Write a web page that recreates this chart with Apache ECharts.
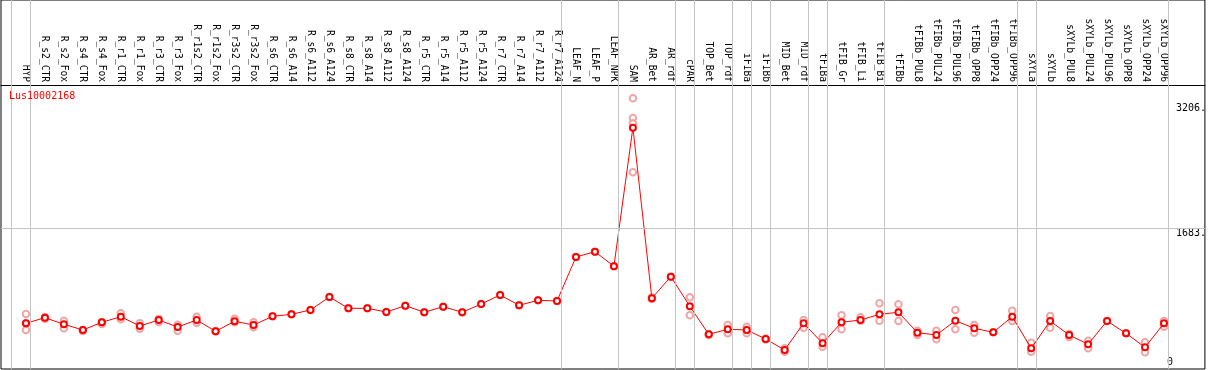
<!DOCTYPE html>
<html><head><meta charset="utf-8">
<script src="https://cdn.jsdelivr.net/npm/echarts@6/dist/echarts.min.js"></script>
<style>html,body{margin:0;padding:0;background:#fff}#c{width:1209px;height:370px}</style>
</head><body><div id="c"></div>
<script>
const geneName = 'Lus10002168';
const categories = ['HYP','R_s2_CTR','R_s2_Fox','R_s4_CTR','R_s4_Fox','R_r1_CTR','R_r1_Fox','R_r3_CTR','R_r3_Fox','R_r1s2_CTR','R_r1s2_Fox','R_r3s2_CTR','R_r3s2_Fox','R_s6_CTR','R_s6_A14','R_s6_A112','R_s6_A124','R_s8_CTR','R_s8_A14','R_s8_A112','R_s8_A124','R_r5_CTR','R_r5_A14','R_r5_A112','R_r5_A124','R_r7_CTR','R_r7_A14','R_r7_A112','R_r7_A124','LEAF_N','LEAF_P','LEAF_NPK','SAM','AR_Bet','AR_rdf','cPAR','TOP_Bet','TOP_rdf','iFIBa','iFIBb','MID_Bet','MID_rdf','tFIBa','tFIB_Gr','tFIB_Li','tFIB_Bi','tFIBb','tFIBb_PUL8','tFIBb_PUL24','tFIBb_PUL96','tFIBb_OPP8','tFIBb_OPP24','tFIBb_OPP96','sXYLa','sXYLb','sXYLb_PUL8','sXYLb_PUL24','sXYLb_PUL96','sXYLb_OPP8','sXYLb_OPP24','sXYLb_OPP96'];
const means = [531,599,519,450,543,611,498,571,486,571,434,555,510,616,640,693,851,713,713,668,745,665,733,665,765,875,750,810,802,1337,1401,1224,2908,835,1098,738,397,458,450,340,207,531,288,543,571,640,665,417,389,563,470,422,611,227,559,389,276,559,409,239,531];
const replicates = [[644,450,531],[608,583],[563,470],[450,437],[547,522],[652,580],[531,465],[583,547],[514,441],[611,538],[434,434],[587,543],[543,482],[616],[640],[693],[851],[713],[713],[668],[745],[665],[733],[665],[765],[875],[750],[810],[802],[1337],[1401],[1224],[3265,3026,2961,2366],[845,825],[1098],[847,628],[397,390],[510,409],[490,409],[345,335],[228,185],[571,478],[361,247],[628,458],[604,563],[774,563],[762,559],[441,389],[441,337],[693,458],[510,417],[422],[684,559],[295,186],[620,478],[401,365],[320,227],[559],[409],[300,179],[559,490]];
const groupEnds = [-1,0,28,31,34,35,37,38,39,41,42,45,52,53,60];
const yTickValues = [1683, 3206];
const yTickLabels = ['1683.', '3206.'];
const yZeroValue = [0];
const yZeroLabel = ['0'];

const FONT = 'DejaVu Sans Mono';
const lineData = means.map((v, i) => [i, v]);
const repData = [];
replicates.forEach((arr, i) => arr.forEach(v => repData.push([i, v])));
const sepLines = groupEnds.map(g => ({ xAxis: g + 4.5 / 19 }));

const chart = echarts.init(document.getElementById('c'));
chart.setOption({
  animation: false,
  title: { text: geneName, left: 9, top: 91, padding: 0,
    textStyle: { color: '#ff0000', fontFamily: FONT, fontSize: 10, fontWeight: 'normal' } },
  grid: { left: 1, right: 2, top: 0, bottom: 1, show: true, borderColor: '#000', borderWidth: 1, backgroundColor: 'transparent' },
  xAxis: {
    type: 'value', position: 'top', offset: -85,
    min: (1 - 26) / 19, max: (1207 - 26) / 19,
    axisLine: { show: true, onZero: false, lineStyle: { color: '#000', width: 1 } },
    axisTick: { show: false }, splitLine: { show: false },
    axisLabel: { customValues: categories.map((c, i) => i), formatter: v => categories[Math.round(v)],
      rotate: 90, margin: 3, color: '#000', fontFamily: FONT, fontSize: 9.6 }
  },
  yAxis: [{
    type: 'value', position: 'right', min: -24.3, max: 4459.3,
    axisLine: { show: false }, axisTick: { show: false }, splitLine: { show: false },
    axisLabel: { inside: true, customValues: yTickValues, formatter: v => yTickLabels[yTickValues.indexOf(v)],
      align: 'left', verticalAlign: 'top', margin: 29, color: '#000', fontFamily: FONT, fontSize: 10 }
  }, {
    type: 'value', position: 'right', min: -24.3, max: 4459.3,
    axisLine: { show: false }, axisTick: { show: false }, splitLine: { show: false },
    axisLabel: { inside: true, customValues: yZeroValue, formatter: v => yZeroLabel[yZeroValue.indexOf(v)],
      align: 'left', verticalAlign: 'bottom', margin: 38, color: '#000', fontFamily: FONT, fontSize: 10 }
  }],
  series: [{
    type: 'scatter', data: repData, symbol: 'emptyCircle', symbolSize: 6.5, z: 2,
    itemStyle: { color: '#ee9090', borderColor: '#ee9090', borderWidth: 1 },
    markLine: { silent: true, symbol: 'none', label: { show: false },
      lineStyle: { color: '#c4c4c4', width: 1, type: 'solid' },
      data: sepLines.concat([{ yAxis: 1683 }]) }
  }, {
    type: 'line', data: lineData, symbol: 'emptyCircle', symbolSize: 6, z: 3,
    lineStyle: { color: '#ff0000', width: 1 },
    itemStyle: { color: '#ff0000', borderColor: '#ff0000', borderWidth: 1.5 }
  }]
});
</script></body></html>
